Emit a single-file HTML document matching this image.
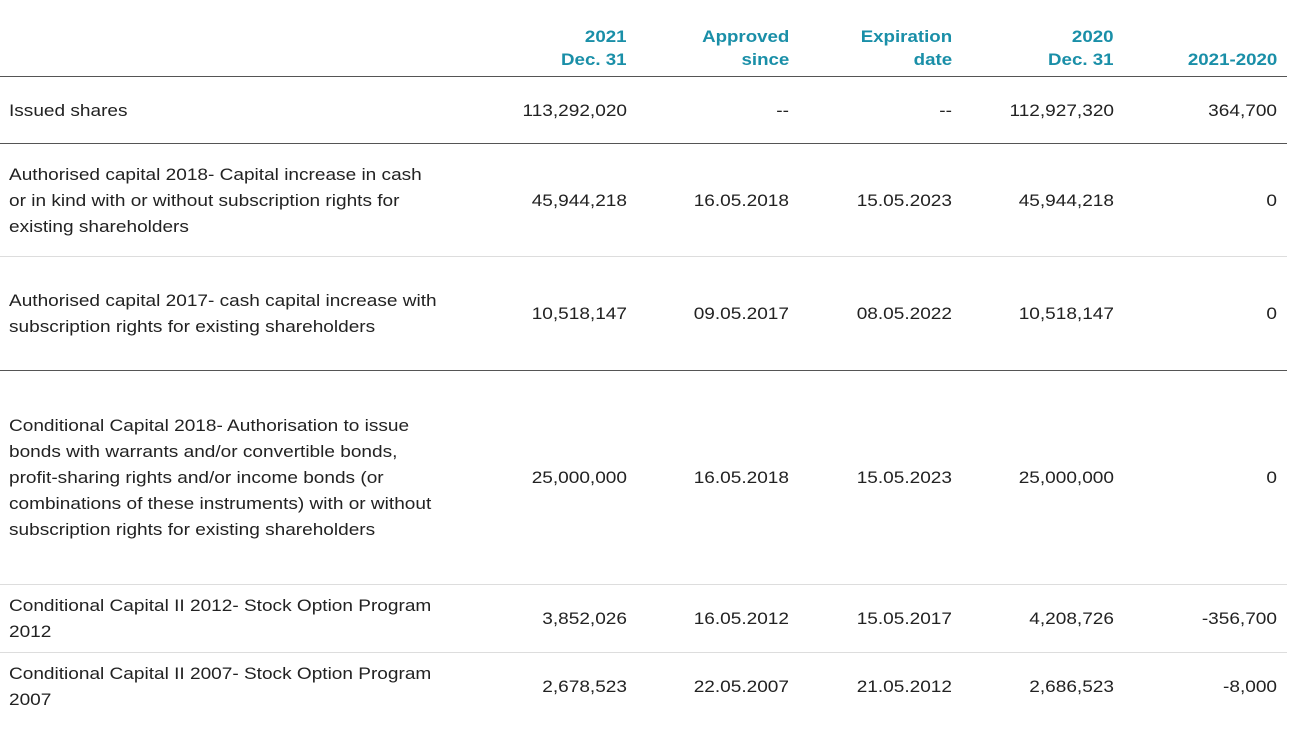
<!DOCTYPE html>
<html><head><style>
body{margin:0;width:1293px;height:735px;background:#fff;font-family:"Liberation Sans",sans-serif;font-size:17px;color:#222;position:relative;overflow:hidden}
.h{position:absolute;color:#1a8fa8;font-weight:bold;text-align:right;line-height:23px;top:25px;transform:scaleX(1.1);transform-origin:right center}
.l{position:absolute;left:0;width:1287px;height:1px}
.d{background:#555}.g{background:#ddd}
.t{position:absolute;left:9px;line-height:26px;white-space:nowrap;transform:scaleX(1.12);transform-origin:left center}
.n{position:absolute;text-align:right;line-height:26px;width:160px;transform:scaleX(1.12);transform-origin:right center}
</style></head><body>
<div class="h" style="right:666px">2021<br>Dec. 31</div>
<div class="h" style="right:504px">Approved<br>since</div>
<div class="h" style="right:341px">Expiration<br>date</div>
<div class="h" style="right:179px">2020<br>Dec. 31</div>
<div class="h" style="right:16px;top:48px">2021-2020</div>
<div class="l d" style="top:76px"></div>
<div class="l d" style="top:143px"></div>
<div class="l g" style="top:256px"></div>
<div class="l d" style="top:370px"></div>
<div class="l g" style="top:584px"></div>
<div class="l g" style="top:652px"></div>

<div class="t" style="top:98px">Issued shares</div>
<div class="t" style="top:162px">Authorised capital 2018- Capital increase in cash<br>or in kind with or without subscription rights for<br>existing shareholders</div>
<div class="t" style="top:288px">Authorised capital 2017- cash capital increase with<br>subscription rights for existing shareholders</div>
<div class="t" style="top:413px">Conditional Capital 2018- Authorisation to issue<br>bonds with warrants and/or convertible bonds,<br>profit-sharing rights and/or income bonds (or<br>combinations of these instruments) with or without<br>subscription rights for existing shareholders</div>
<div class="t" style="top:593px">Conditional Capital II 2012- Stock Option Program<br>2012</div>
<div class="t" style="top:661px">Conditional Capital II 2007- Stock Option Program<br>2007</div>

<div class="n" style="top:98px;left:467px">113,292,020</div>
<div class="n" style="top:98px;left:629px">--</div>
<div class="n" style="top:98px;left:792px">--</div>
<div class="n" style="top:98px;left:954px">112,927,320</div>
<div class="n" style="top:98px;left:1117px">364,700</div>

<div class="n" style="top:188px;left:467px">45,944,218</div>
<div class="n" style="top:188px;left:629px">16.05.2018</div>
<div class="n" style="top:188px;left:792px">15.05.2023</div>
<div class="n" style="top:188px;left:954px">45,944,218</div>
<div class="n" style="top:188px;left:1117px">0</div>

<div class="n" style="top:301px;left:467px">10,518,147</div>
<div class="n" style="top:301px;left:629px">09.05.2017</div>
<div class="n" style="top:301px;left:792px">08.05.2022</div>
<div class="n" style="top:301px;left:954px">10,518,147</div>
<div class="n" style="top:301px;left:1117px">0</div>

<div class="n" style="top:465px;left:467px">25,000,000</div>
<div class="n" style="top:465px;left:629px">16.05.2018</div>
<div class="n" style="top:465px;left:792px">15.05.2023</div>
<div class="n" style="top:465px;left:954px">25,000,000</div>
<div class="n" style="top:465px;left:1117px">0</div>

<div class="n" style="top:606px;left:467px">3,852,026</div>
<div class="n" style="top:606px;left:629px">16.05.2012</div>
<div class="n" style="top:606px;left:792px">15.05.2017</div>
<div class="n" style="top:606px;left:954px">4,208,726</div>
<div class="n" style="top:606px;left:1117px">-356,700</div>

<div class="n" style="top:674px;left:467px">2,678,523</div>
<div class="n" style="top:674px;left:629px">22.05.2007</div>
<div class="n" style="top:674px;left:792px">21.05.2012</div>
<div class="n" style="top:674px;left:954px">2,686,523</div>
<div class="n" style="top:674px;left:1117px">-8,000</div>
</body></html>
